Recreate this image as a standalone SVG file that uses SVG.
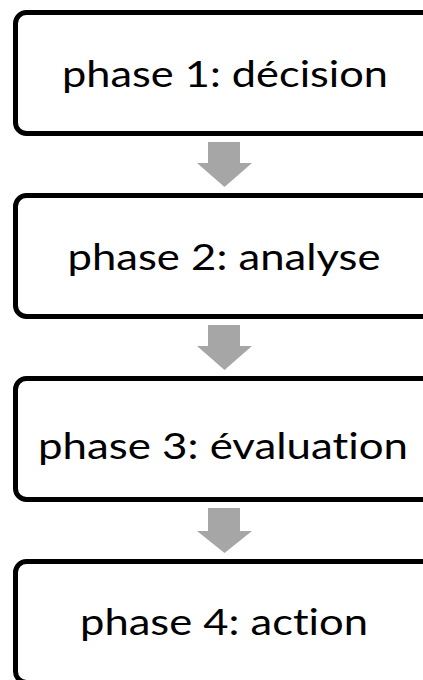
<svg xmlns="http://www.w3.org/2000/svg" width="423" height="680" viewBox="0 0 423 680">
<style>
.box{fill:#ffffff;stroke:#000000;stroke-width:5}
.lbl{font-family:Lato,"Open Sans",sans-serif;font-size:37px;fill:#000000;text-anchor:middle;font-variant-ligatures:none;font-feature-settings:"liga" 0,"dlig" 0}
.arr{fill:#a6a6a6}
</style>
<rect width="423" height="680" fill="#ffffff"/>
<g id="connectors">
<polygon class="arr" points="208,142 240,142 240,163 252,163 224.5,187 197,163 208,163"/>
<polygon class="arr" points="208,325 240,325 240,346 252,346 224.5,370 197,346 208,346"/>
<polygon class="arr" points="208,508 240,508 240,531 252,531 224.5,553 197,531 208,531"/>
</g>
<g id="node1">
<rect class="box" x="15.5" y="12.5" width="430" height="121" rx="11"/>
<text class="lbl" x="225" y="87" textLength="326" lengthAdjust="spacingAndGlyphs">phase 1: décision</text>
</g>
<g id="node2">
<rect class="box" x="15.5" y="195.5" width="430" height="121" rx="11"/>
<text class="lbl" x="224" y="270" textLength="313" lengthAdjust="spacingAndGlyphs">phase 2: analyse</text>
</g>
<g id="node3">
<rect class="box" x="15.5" y="378.5" width="430" height="121" rx="11"/>
<text class="lbl" x="223" y="459" textLength="370" lengthAdjust="spacingAndGlyphs">phase 3: évaluation</text>
</g>
<g id="node4">
<rect class="box" x="15.5" y="561.5" width="430" height="121" rx="11"/>
<text class="lbl" x="224" y="635" textLength="288" lengthAdjust="spacingAndGlyphs">phase 4: action</text>
</g>
</svg>
